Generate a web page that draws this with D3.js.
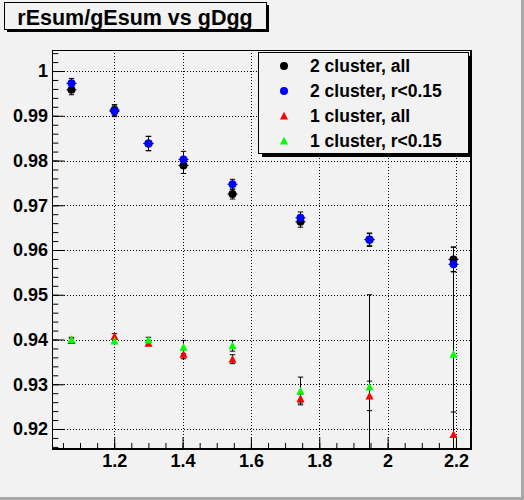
<!DOCTYPE html>
<html>
<head>
<meta charset="utf-8">
<script src="https://cdn.jsdelivr.net/npm/d3@7"></script>
<style>
  body { margin: 0; background: #f2f2f2; }
  svg { display: block; font-family: "Liberation Sans", Arial, Helvetica, sans-serif; font-weight: bold; }
</style>
</head>
<body>
<div id="canvas"></div>
<script>
// ---- data ----
const xPoints = [1.075, 1.2, 1.3, 1.4, 1.545, 1.745, 1.945, 2.19];

const all2 = [0.9958, 0.9913, 0.9838, 0.9789, 0.9725, 0.9663, 0.9623, 0.9579];
const all2Err = [0.0011, 0.0012, 0.0016, 0.0018, 0.0011, 0.0012, 0.0015, 0.0027];

const cut2 = [0.99725, 0.9910, 0.9838, 0.98025, 0.9747, 0.9672, 0.96235, 0.9568];
const cut2Err = [0.0011, 0.0012, 0.0016, 0.0018, 0.0011, 0.0013, 0.0013, 0.0017];

const all1 = [0.9398, 0.9407, 0.9392, 0.9367, 0.9356, 0.9268, 0.9274, 0.9188];
const all1Err = [0.0005, 0.0006, 0.0006, 0.0010, 0.0010, 0.0010, 0.0033, 0.0050];

const cut1 = [0.9400, 0.9397, 0.9399, 0.9383, 0.9386, 0.9285, 0.9294, 0.9367];
const cut1Err = [0.0005, 0.0005, 0.0006, 0.0015, 0.0012, 0.0031, 0.0206, 0.0240];

const seriesNames = ["2 cluster, all", "2 cluster, r<0.15", "1 cluster, all", "1 cluster, r<0.15"];
const seriesColors = ["#000000", "#0000ff", "#ff0000", "#00ff00"];
const seriesShapes = ["circle", "circle", "triangle", "triangle"];

const xTicks = [1.2, 1.4, 1.6, 1.8, 2.0, 2.2];
const xTickLabels = ["1.2", "1.4", "1.6", "1.8", "2", "2.2"];
const yTicks = [0.92, 0.93, 0.94, 0.95, 0.96, 0.97, 0.98, 0.99, 1.0];
const yTickLabels = ["0.92", "0.93", "0.94", "0.95", "0.96", "0.97", "0.98", "0.99", "1"];

const titleText = "rEsum/gEsum vs gDgg";

// ---- layout ----
const W = 524, H = 500;
const fLeft = 52, fRight = 471, fTop = 50, fBottom = 449;
const bg = "#f2f2f2";

const x = d3.scaleLinear().domain([1.018, 2.244]).range([fLeft, fRight]);
const y = d3.scaleLinear().domain([0.91553, 1.0047]).range([fBottom, fTop]);

const svg = d3.select("#canvas").append("svg")
  .attr("width", W).attr("height", H);

svg.append("rect").attr("width", W).attr("height", H).attr("fill", bg);
// canvas bevel on the right / bottom
svg.append("rect").attr("x", W - 3).attr("y", 0).attr("width", 3).attr("height", H).attr("fill", "#a8a8a8");
svg.append("rect").attr("x", 0).attr("y", H - 3).attr("width", W).attr("height", 3).attr("fill", "#a8a8a8");

svg.append("clipPath").attr("id", "frameclip")
  .append("rect").attr("x", fLeft).attr("y", fTop).attr("width", fRight - fLeft).attr("height", fBottom - fTop);

// ---- grid ----
const grid = svg.append("g").attr("stroke", "#000").attr("stroke-width", 1).attr("stroke-dasharray", "1,2");
grid.selectAll(".gx").data(xTicks).join("line").attr("class", "gx")
  .attr("x1", d => Math.round(x(d)) + 0.5).attr("x2", d => Math.round(x(d)) + 0.5)
  .attr("y1", fTop).attr("y2", fBottom);
grid.selectAll(".gy").data(yTicks).join("line").attr("class", "gy")
  .attr("y1", d => Math.round(y(d)) + 0.5).attr("y2", d => Math.round(y(d)) + 0.5)
  .attr("x1", fLeft).attr("x2", fRight);

// ---- axes (ticks inside frame, ROOT style) ----
const xMinor = d3.range(1.05, 2.244, 0.05);
const yMinor = d3.range(0.916, 1.0047, 0.002);

svg.append("g").attr("transform", `translate(0,${fBottom})`)
  .call(d3.axisBottom(x).tickValues(xMinor).tickSize(-6).tickFormat(""))
  .call(g => g.select(".domain").remove());
svg.append("g").attr("transform", `translate(${fLeft},0)`)
  .call(d3.axisLeft(y).tickValues(yMinor).tickSize(-6.3).tickFormat(""))
  .call(g => g.select(".domain").remove());

svg.append("g").attr("transform", `translate(0,${fBottom})`)
  .call(d3.axisBottom(x).tickValues(xTicks).tickSize(-12).tickPadding(5)
    .tickFormat((d, i) => xTickLabels[i]))
  .call(g => g.select(".domain").remove())
  .call(g => g.selectAll("text").attr("font-size", "18px").attr("font-family", null).attr("font-weight", "bold"));
svg.append("g").attr("transform", `translate(${fLeft},0)`)
  .call(d3.axisLeft(y).tickValues(yTicks).tickSize(-12.5).tickPadding(4)
    .tickFormat((d, i) => yTickLabels[i]))
  .call(g => g.select(".domain").remove())
  .call(g => g.selectAll("text").attr("font-size", "18px").attr("font-family", null).attr("font-weight", "bold"));

svg.selectAll(".tick line").attr("stroke", "#000");

// frame
svg.append("rect").attr("x", fLeft + 0.5).attr("y", fTop + 0.5)
  .attr("width", fRight - fLeft - 1).attr("height", fBottom - fTop - 1)
  .attr("fill", "none").attr("stroke", "#000").attr("stroke-width", 1);
svg.append("line").attr("x1", fLeft).attr("x2", fRight + 1).attr("y1", fBottom).attr("y2", fBottom)
  .attr("stroke", "#000").attr("stroke-width", 2);
svg.append("line").attr("x1", fRight).attr("x2", fRight).attr("y1", fTop).attr("y2", fBottom + 1)
  .attr("stroke", "#000").attr("stroke-width", 2);

// ---- data ----
const series = [
  { vals: all2, errs: all2Err },
  { vals: cut2, errs: cut2Err },
  { vals: all1, errs: all1Err },
  { vals: cut1, errs: cut1Err }
].map((s, k) => ({
  name: seriesNames[k], color: seriesColors[k], shape: seriesShapes[k],
  points: xPoints.map((xv, i) => ({ x: xv, y: s.vals[i], e: s.errs[i] }))
}));

const triPath = "M0,-4.2L4,3.6L-4,3.6Z";

const plot = svg.append("g").attr("clip-path", "url(#frameclip)");

// error bars first
series.forEach(s => {
  const eb = plot.append("g").attr("stroke", "#000").attr("stroke-width", 1).attr("fill", "none");
  s.points.forEach(p => {
    const cx = Math.round(x(p.x)) + 0.5;
    const y0 = y(p.y + p.e), y1 = y(p.y - p.e);
    eb.append("line").attr("x1", cx).attr("x2", cx).attr("y1", y0).attr("y2", y1);
    eb.append("line").attr("x1", cx - 2.7).attr("x2", cx + 2.7).attr("y1", y0).attr("y2", y0);
    eb.append("line").attr("x1", cx - 2.7).attr("x2", cx + 2.7).attr("y1", y1).attr("y2", y1);
    if (s.shape === "circle") {
      eb.append("line").attr("x1", cx - 5).attr("x2", cx + 5)
        .attr("y1", y(p.y)).attr("y2", y(p.y));
    }
  });
});

// markers
series.forEach(s => {
  const mg = plot.append("g").attr("fill", s.color);
  if (s.shape === "circle") {
    mg.selectAll("circle").data(s.points).join("circle")
      .attr("cx", d => Math.round(x(d.x)) + 0.5).attr("cy", d => y(d.y)).attr("r", 4);
  } else {
    mg.selectAll("path").data(s.points).join("path")
      .attr("d", triPath)
      .attr("transform", d => `translate(${Math.round(x(d.x)) + 0.5},${y(d.y)})`);
  }
});

// ---- legend ----
const lg = svg.append("g");
lg.append("rect").attr("x", 262).attr("y", 56).attr("width", 210).attr("height", 101).attr("fill", "#000");
lg.append("rect").attr("x", 258.5).attr("y", 52.5).attr("width", 210).attr("height", 101)
  .attr("fill", bg).attr("stroke", "#000").attr("stroke-width", 1);
const rowY = d3.scalePoint().domain(seriesNames).range([66, 141]);
series.forEach(s => {
  const ry = rowY(s.name);
  if (s.shape === "circle") {
    lg.append("circle").attr("cx", 284).attr("cy", ry).attr("r", 4).attr("fill", s.color);
  } else {
    lg.append("path").attr("d", triPath).attr("transform", `translate(284,${ry})`).attr("fill", s.color);
  }
  lg.append("text").attr("x", 310).attr("y", ry).attr("dy", "0.36em")
    .attr("font-size", "17.5px").attr("fill", "#000").text(s.name);
});

// ---- title ----
const tg = svg.append("g");
tg.append("rect").attr("x", 7).attr("y", 5).attr("width", 262).attr("height", 27).attr("fill", "#000");
tg.append("rect").attr("x", 4.5).attr("y", 2.5).attr("width", 262).attr("height", 27)
  .attr("fill", bg).attr("stroke", "#000").attr("stroke-width", 1);
tg.append("text").attr("x", 135).attr("y", 24.5).attr("text-anchor", "middle")
  .attr("font-size", "21.5px").attr("fill", "#000").text(titleText);
</script>
</body>
</html>
